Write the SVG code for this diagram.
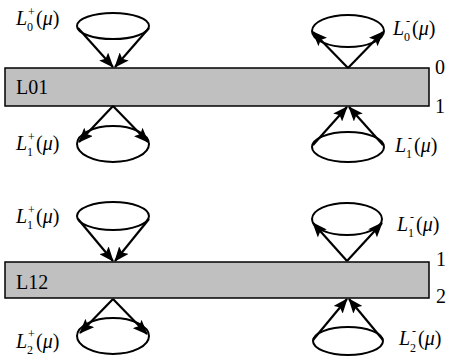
<svg xmlns="http://www.w3.org/2000/svg" width="450" height="357" viewBox="0 0 450 357">
<style>
.bar{fill:#c0c0c0;stroke:#000;stroke-width:1.5}
.el{fill:none;stroke:#000;stroke-width:2}
.ar{stroke:#000;stroke-width:2.2;fill:none;marker-end:url(#ah)}
.t{font-family:"Liberation Serif",serif;font-size:20px;fill:#000}
.i{font-style:italic}
.s{font-family:"Liberation Serif",serif;font-size:12px;fill:#000}
</style>
<defs>
<marker id="ah" markerUnits="userSpaceOnUse" markerWidth="15" markerHeight="12" refX="14" refY="6" orient="auto">
<path d="M0,0 L15,6 L0,12 L3,6 Z" fill="#000"/>
</marker>
</defs>
<g id="bar01"><rect class="bar" x="5" y="68" width="424" height="38"/><text class="t" x="16" y="94">L01</text><text class="t" x="435" y="74">0</text><text class="t" x="435" y="113">1</text></g>
<g id="bar12"><rect class="bar" x="5" y="262" width="424" height="36"/><text class="t" x="16" y="289">L12</text><text class="t" x="436" y="266">1</text><text class="t" x="436" y="303">2</text></g>
<g id="L0p"><ellipse class="el" cx="113" cy="26" rx="36" ry="13"/><text class="t i" x="16" y="25">L</text><text class="s" x="28" y="16">+</text><text class="s" x="27" y="31">0</text><text class="t" x="36" y="25">(<tspan class="i">μ</tspan>)</text></g>
<g id="L1p"><ellipse class="el" cx="113" cy="144" rx="36" ry="18"/><text class="t i" x="16" y="150">L</text><text class="s" x="28" y="141">+</text><text class="s" x="27" y="156">1</text><text class="t" x="36" y="150">(<tspan class="i">μ</tspan>)</text></g>
<g id="L0m"><ellipse class="el" cx="348" cy="31" rx="36" ry="16"/><text class="t i" x="393" y="35">L</text><text class="s" x="406" y="25">-</text><text class="s" x="404" y="41">0</text><text class="t" x="412" y="35">(<tspan class="i">μ</tspan>)</text></g>
<g id="L1m"><ellipse class="el" cx="348" cy="147" rx="36" ry="15"/><text class="t i" x="395" y="152">L</text><text class="s" x="408" y="142">-</text><text class="s" x="406" y="158">1</text><text class="t" x="414" y="152">(<tspan class="i">μ</tspan>)</text></g>
<g id="L1p2"><ellipse class="el" cx="113" cy="216" rx="36" ry="14"/><text class="t i" x="16" y="223">L</text><text class="s" x="28" y="214">+</text><text class="s" x="27" y="229">1</text><text class="t" x="36" y="223">(<tspan class="i">μ</tspan>)</text></g>
<g id="L2p"><ellipse class="el" cx="113" cy="336" rx="36" ry="18"/><text class="t i" x="16" y="348">L</text><text class="s" x="28" y="338">+</text><text class="s" x="27" y="354">2</text><text class="t" x="36" y="348">(<tspan class="i">μ</tspan>)</text></g>
<g id="L1m2"><ellipse class="el" cx="347" cy="219" rx="35" ry="16"/><text class="t i" x="397" y="231">L</text><text class="s" x="410" y="221">-</text><text class="s" x="408" y="237">1</text><text class="t" x="416" y="231">(<tspan class="i">μ</tspan>)</text></g>
<g id="L2m"><ellipse class="el" cx="348" cy="341" rx="35" ry="14"/><text class="t i" x="399" y="345">L</text><text class="s" x="412" y="335">-</text><text class="s" x="410" y="352">2</text><text class="t" x="418" y="345">(<tspan class="i">μ</tspan>)</text></g>
<g id="connectors">
<line class="ar" x1="78" y1="28" x2="113" y2="67"/>
<line class="ar" x1="149" y1="28" x2="115" y2="67"/>
<line class="ar" x1="113" y1="106" x2="79" y2="142"/>
<line class="ar" x1="113" y1="106" x2="148" y2="142"/>
<line class="ar" x1="348" y1="68" x2="313" y2="32"/>
<line class="ar" x1="348" y1="68" x2="383" y2="32"/>
<line class="ar" x1="313" y1="145" x2="347" y2="107"/>
<line class="ar" x1="383" y1="145" x2="349" y2="107"/>
<line class="ar" x1="78" y1="219" x2="113" y2="261"/>
<line class="ar" x1="149" y1="219" x2="115" y2="261"/>
<line class="ar" x1="113" y1="299" x2="80" y2="333"/>
<line class="ar" x1="113" y1="299" x2="147" y2="334"/>
<line class="ar" x1="347" y1="261" x2="313" y2="223"/>
<line class="ar" x1="347" y1="261" x2="382" y2="223"/>
<line class="ar" x1="313" y1="340" x2="347" y2="299"/>
<line class="ar" x1="383" y1="340" x2="349" y2="299"/>
</g>
</svg>
